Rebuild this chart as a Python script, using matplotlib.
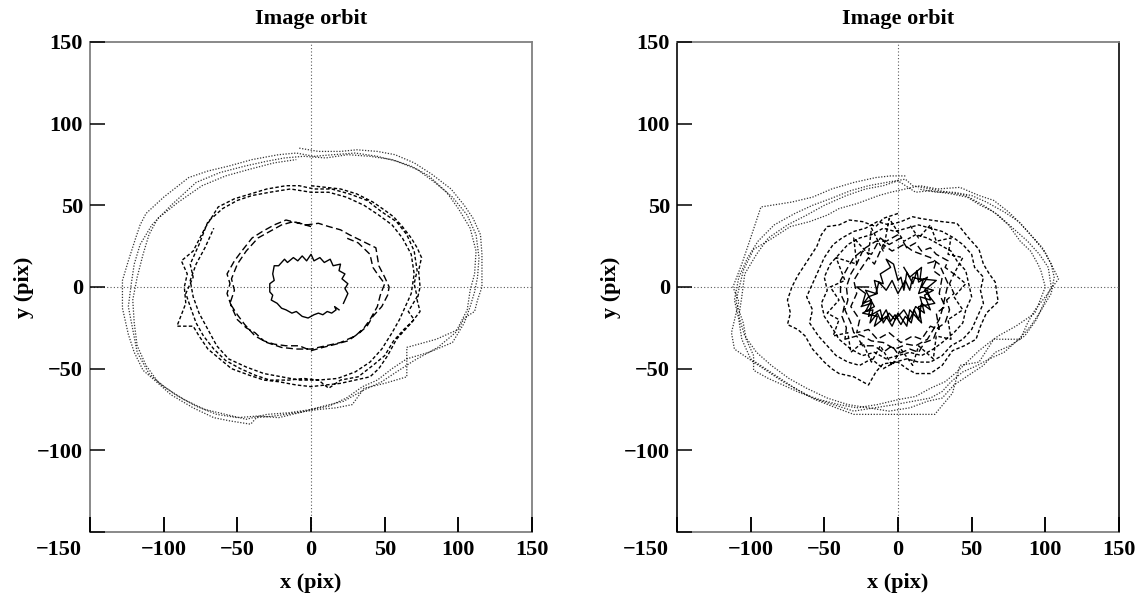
import matplotlib.pyplot as plt
import numpy as np
from matplotlib.transforms import ScaledTranslation

plt.rcParams['font.family'] = ['Liberation Serif', 'DejaVu Serif']
plt.rcParams['font.weight'] = 'bold'
plt.rcParams['axes.unicode_minus'] = True

# ---- data (x, y in pix) ----
# left panel
left_solid = [(22, -10), (25, -4), (23, -1), (25, 2), (21, 5), (23, 8), (19, 10), (20, 14),
              (15, 13), (13, 17), (9, 15), (6, 18), (2, 16), (0, 20), (-3, 16), (-6, 19),
              (-9, 16), (-12, 18), (-16, 15), (-18, 17), (-22, 13), (-25, 13), (-26, 8),
              (-25, 4), (-28, 2), (-28, -3), (-26, -5), (-27, -8), (-23, -10), (-20, -13),
              (-17, -14), (-13, -16), (-10, -15), (-6, -18), (-2, -19), (2, -17), (5, -16),
              (8, -17), (11, -15), (14, -16), (17, -14), (16, -12), (19, -14)]

left_longdash_1 = [(0, 37), (-8, 39), (-17, 41), (-25, 38), (-33, 34), (-40, 30), (-47, 22),
                   (-52, 16), (-57, 8), (-55, 2), (-57, -4), (-54, -12), (-50, -20), (-44, -25),
                   (-38, -28), (-32, -33), (-25, -35), (-17, -36), (-8, -36), (0, -39), (8, -37),
                   (17, -35), (25, -33), (33, -28), (38, -24), (42, -18), (48, -12), (52, -5),
                   (53, 0), (50, 6), (46, 13), (44, 24), (35, 28), (26, 32), (20, 35), (12, 37),
                   (5, 39)]
left_longdash_2 = [(-3, 38), (-12, 40), (-20, 38), (-28, 34), (-36, 30), (-44, 22), (-50, 14),
                   (-54, 5), (-52, -2), (-55, -10), (-50, -17), (-45, -23), (-38, -30), (-30, -34),
                   (-20, -37), (-10, -38), (0, -38), (10, -36), (20, -34), (30, -30), (36, -25),
                   (40, -20), (45, -12), (47, -5), (50, 2), (45, 8), (42, 12), (40, 20), (32, 27),
                   (24, 30)]

left_dash_1 = [(0, 62), (10, 61), (20, 60), (31, 57), (42, 52), (50, 47), (56, 43), (62, 37),
               (68, 30), (72, 24), (75, 18), (73, 10), (74, 0), (72, -8), (74, -15), (68, -22),
               (62, -28), (58, -32), (52, -42), (46, -50), (40, -55), (30, -57), (20, -59),
               (10, -60), (0, -61), (-10, -60), (-22, -58), (-32, -57), (-42, -54), (-54, -50),
               (-62, -44), (-70, -38), (-76, -30), (-80, -24), (-91, -24), (-85, -10), (-86, 0),
               (-84, 8), (-88, 16), (-80, 22), (-72, 36), (-63, 49), (-52, 54), (-41, 57),
               (-30, 60), (-17, 62), (-8, 62)]
left_dash_2 = [(2, 60), (14, 60), (26, 57), (38, 53), (48, 46), (58, 40), (65, 32), (70, 22),
               (72, 10), (70, 2), (72, -6), (66, -15), (70, -20), (63, -26), (56, -33), (50, -42),
               (42, -48), (32, -55), (20, -57), (12, -62), (5, -57), (-5, -56), (-15, -57),
               (-28, -57), (-38, -54), (-48, -50), (-58, -45), (-66, -38), (-73, -30), (-78, -22),
               (-82, -12), (-85, -4), (-80, 6), (-82, 14), (-76, 26), (-70, 40), (-60, 48),
               (-50, 53), (-40, 56), (-28, 58), (-14, 60)]
left_dash_3 = [(0, 58), (12, 58), (24, 55), (36, 50), (46, 44), (55, 38), (62, 30), (68, 20),
               (70, 8), (68, -4), (64, -12), (60, -20), (55, -28), (48, -38), (40, -46), (30, -52),
               (18, -56), (5, -57), (-8, -57), (-20, -55), (-32, -53), (-44, -49), (-56, -44),
               (-64, -36), (-70, -26), (-76, -16), (-80, -6), (-82, 4), (-78, 14), (-72, 24),
               (-66, 36)]

left_dot_1 = [(-8, 85), (5, 83), (20, 83), (31, 84), (45, 83), (57, 81), (70, 76), (82, 69),
              (95, 60), (104, 50), (110, 42), (115, 32), (116, 20), (116, 8), (116, 0), (113, -8),
              (111, -15), (104, -19), (100, -26), (85, -32), (65, -37), (65, -55), (50, -59),
              (36, -62), (28, -72), (17, -74), (5, -75), (-10, -77), (-25, -79), (-37, -80),
              (-41, -84), (-55, -82), (-66, -80), (-80, -74), (-95, -66), (-105, -58),
              (-114, -51), (-120, -40), (-124, -29), (-128, -13), (-128, 4), (-124, 16),
              (-119, 30), (-116, 38), (-112, 45), (-100, 55), (-83, 67), (-70, 71), (-56, 74),
              (-40, 78), (-22, 81)]
left_dot_2 = [(-10, 82), (2, 80), (15, 81), (30, 82), (45, 80), (58, 77), (72, 72), (84, 64),
              (96, 55), (106, 44), (112, 32), (114, 18), (113, 6), (111, -3), (108, -12),
              (104, -22), (96, -34), (80, -40), (65, -44), (55, -50), (45, -57), (35, -61),
              (24, -68), (12, -73), (0, -75), (-15, -77), (-30, -78), (-44, -81), (-58, -78),
              (-72, -75), (-86, -69), (-100, -61), (-110, -53), (-118, -40), (-121, -26),
              (-124, -12), (-122, 2), (-120, 14), (-116, 26), (-108, 38), (-95, 50), (-78, 64),
              (-62, 70), (-45, 74), (-30, 77)]
left_dot_3 = [(-18, 79), (-5, 80), (10, 79), (25, 81), (40, 80), (55, 78), (68, 74), (80, 68),
              (92, 58), (100, 48), (108, 36), (112, 22), (111, 8), (108, -2), (106, -14),
              (98, -28), (86, -37), (70, -45), (58, -52), (48, -58), (36, -63), (22, -70),
              (8, -73), (-8, -77), (-22, -80), (-36, -79), (-50, -80), (-64, -78), (-78, -73),
              (-92, -66), (-104, -58), (-112, -48), (-118, -36), (-120, -22), (-121, -8),
              (-118, 6), (-114, 20), (-110, 32), (-104, 42), (-90, 52), (-74, 62), (-58, 68),
              (-42, 72), (-25, 76), (-10, 78)]

# right panel
right_solid = [(-20, 0), (-28, 0), (-22, -4), (-24, -10), (-18, -8), (-22, -15), (-17, -14),
               (-19, -22), (-14, -16), (-12, -20), (-8, -14), (-5, -21), (-2, -17), (2, -23),
               (5, -18), (9, -22), (11, -14), (14, -20), (16, -10), (22, -14), (18, -5), (24, -2),
               (16, 0), (20, 6), (14, 3), (13, 10), (10, 2), (6, 9), (4, -2), (2, 6), (0, 4),
               (-3, 14), (-8, 17), (-5, 12), (-12, 8), (-10, 2), (-16, 4), (-14, -4), (-20, -6),
               (-25, -12), (-18, -10), (-20, -18), (-12, -14), (-10, -22), (-6, -16), (-2, -20),
               (4, -14), (8, -20), (12, -12), (18, -16), (15, -6), (22, -8), (20, -2), (14, -4),
               (17, 4), (10, 6), (8, -2), (5, 4), (0, -4), (-4, 4), (-8, -2), (-13, 3), (-15, -4),
               (-22, -2), (-16, -12), (-24, -16), (-14, -18), (-16, -24), (-8, -18), (-4, -24),
               (0, -16), (6, -24), (8, -14), (16, -22), (14, -12), (25, -10), (18, -2), (26, 4),
               (15, 5), (16, 12), (8, 6), (4, 12)]

right_longdash = [(0, 32), (-8, 28), (-15, 28), (-22, 24), (-30, 18), (-34, 12), (-39, 4),
                  (-39, -4), (-36, -10), (-38, -18), (-35, -25), (-36, -32), (-28, -30),
                  (-24, -36), (-16, -36), (-10, -40), (-4, -36), (0, -41), (8, -38), (14, -40),
                  (18, -34), (24, -32), (27, -25), (32, -22), (35, -14), (33, -8), (38, -4),
                  (35, 2), (38, 8), (32, 12), (34, 16), (26, 20), (22, 24), (16, 22), (12, 27),
                  (6, 24), (2, 30), (-6, 26), (-12, 30), (-18, 20), (-24, 22), (-28, 14),
                  (-32, 8), (-35, 0), (-34, -8), (-36, -14), (-32, -22), (-30, -28), (-24, -30),
                  (-18, -33), (-10, -34), (-2, -38), (6, -35), (12, -36), (20, -32), (24, -26),
                  (28, -20), (30, -14), (32, -6), (34, 2), (30, 10), (28, 14), (22, 18),
                  (16, 20), (10, 22), (4, 26), (-4, 22), (-10, 26), (-16, 14), (-20, 18),
                  (-26, 10), (-30, 4), (-28, -4), (-32, -12), (-26, -20), (-28, -28), (-20, -26),
                  (-14, -32), (-6, -28), (2, -34), (10, -30), (16, -32), (22, -24), (28, -26),
                  (26, -16), (32, -12), (28, -4), (30, 6), (24, 10), (26, 16), (18, 14)]

right_dash_1 = [(0, 45), (-10, 42), (-15, 37), (-24, 40), (-33, 41), (-40, 38), (-48, 37),
                (-52, 32), (-55, 25), (-60, 18), (-68, 7), (-72, 0), (-75, -8), (-73, -16),
                (-75, -23), (-68, -26), (-63, -30), (-58, -38), (-50, -46), (-45, -50),
                (-40, -53), (-30, -55), (-20, -60), (-15, -52), (-10, -47), (0, -46), (6, -50),
                (12, -53), (22, -53), (30, -48), (37, -39), (45, -36), (53, -32), (56, -24),
                (60, -16), (68, -9), (66, 3), (62, 8), (58, 14), (55, 23), (48, 30), (40, 39),
                (30, 40), (22, 41), (15, 42), (10, 43)]
right_dash_2 = [(2, 40), (-6, 38), (-14, 40), (-22, 36), (-30, 34), (-38, 30), (-44, 26),
                (-50, 18), (-54, 10), (-58, 2), (-62, -6), (-58, -14), (-60, -22), (-54, -30),
                (-48, -36), (-42, -42), (-34, -46), (-26, -48), (-18, -44), (-10, -50),
                (-2, -46), (6, -44), (14, -46), (22, -46), (30, -42), (36, -36), (44, -32),
                (50, -26), (54, -18), (58, -10), (56, -2), (58, 6), (52, 12), (50, 20),
                (44, 26), (38, 30), (30, 34), (22, 36), (14, 38)]
right_dash_3 = [(6, 36), (-2, 34), (-10, 36), (-18, 32), (-26, 30), (-34, 26), (-40, 20),
                (-46, 14), (-50, 6), (-48, -2), (-52, -10), (-50, -18), (-44, -26), (-40, -32),
                (-32, -38), (-24, -42), (-16, -40), (-8, -44), (0, -42), (8, -40), (16, -42),
                (24, -38), (30, -34), (38, -28), (44, -22), (46, -14), (50, -6), (48, 2),
                (46, 10), (40, 16), (36, 22), (28, 26), (20, 30), (12, 32)]
right_dash_4 = [(4, 28), (-6, 42), (-10, 22), (-18, 36), (-20, 20), (-30, 30), (-28, 14),
                (-42, 18), (-36, 4), (-46, 0), (-40, -8), (-48, -16), (-40, -20), (-44, -30),
                (-34, -28), (-32, -40), (-24, -34), (-18, -46), (-12, -36), (-4, -48), (2, -38),
                (10, -48), (14, -36), (24, -44), (26, -30), (36, -32), (34, -20), (44, -14),
                (38, -6), (46, 2), (38, 8), (44, 18), (34, 20), (36, 30), (26, 28), (22, 38),
                (14, 30), (8, 38)]

right_dot_1 = [(5, 68), (-5, 68), (-15, 67), (-30, 64), (-45, 60), (-58, 55), (-72, 52),
               (-93, 49), (-100, 30), (-106, 14), (-112, 0), (-108, -9), (-113, -28),
               (-111, -38), (-98, -46), (-88, -52), (-78, -58), (-66, -64), (-56, -69),
               (-42, -74), (-30, -78), (-15, -78), (0, -78), (12, -78), (25, -78), (37, -65),
               (42, -48), (55, -46), (65, -32), (83, -32), (88, -22), (93, -14), (100, -6),
               (109, 5), (100, 21), (92, 30), (83, 39), (75, 46), (65, 53), (55, 56), (42, 61),
               (27, 60), (15, 62)]
right_dot_2 = [(5, 60), (-5, 58), (-13, 56), (-28, 51), (-40, 48), (-48, 44), (-60, 40),
               (-73, 37), (-85, 30), (-98, 23), (-105, 10), (-110, -9), (-105, -22),
               (-103, -32), (-98, -42), (-98, -51), (-88, -56), (-78, -60), (-66, -65),
               (-53, -69), (-40, -72), (-28, -74), (-14, -72), (0, -69), (12, -67), (22, -62),
               (32, -58), (40, -52), (48, -45), (55, -39), (62, -34), (68, -30), (80, -24),
               (93, -16), (100, 0), (97, 10), (95, 14), (90, 22), (83, 28), (75, 38), (65, 46),
               (56, 50), (47, 55), (36, 57), (22, 59), (12, 58)]
right_dot_3 = [(0, 65), (-10, 62), (-22, 60), (-35, 56), (-50, 50), (-62, 44), (-75, 38),
               (-88, 30), (-96, 20), (-104, 8), (-106, -6), (-108, -18), (-104, -30),
               (-96, -40), (-86, -48), (-74, -56), (-62, -62), (-48, -68), (-34, -72),
               (-20, -74), (-6, -76), (8, -74), (20, -70), (30, -68), (38, -60), (48, -54),
               (58, -48), (66, -40), (76, -36), (86, -30), (94, -20), (100, -8), (104, 0),
               (102, 12), (96, 20), (88, 28), (78, 36), (68, 44), (58, 50), (46, 56), (34, 58),
               (22, 60), (10, 62)]
right_dot_4 = [(5, 66), (-8, 64), (-20, 62), (-32, 59), (-46, 54), (-58, 50), (-70, 45),
               (-84, 38), (-95, 28), (-102, 18), (-108, 6), (-111, -8), (-108, -20),
               (-106, -32), (-100, -44), (-90, -50), (-80, -56), (-70, -62), (-58, -68),
               (-44, -72), (-30, -76), (-16, -74), (-2, -72), (10, -70), (22, -68), (30, -64),
               (36, -58), (44, -52), (54, -48), (62, -44), (72, -40), (82, -32), (90, -24),
               (96, -16), (104, -4), (106, 6), (104, 14), (98, 24), (90, 32), (82, 40),
               (72, 46), (60, 52), (50, 56), (38, 58), (26, 58), (14, 60)]

ticks = [-150, -100, -50, 0, 50, 100, 150]
xtick_labels = ['\u2212150', '\u2212100', '\u221250', '0', '50', '100', '150']
ytick_labels = ['', '\u2212100', '\u221250', '0', '50', '100', '150']


def xy(*parts):
    pts = np.array([p for part in parts for p in part], dtype=float)
    return pts[:, 0], pts[:, 1]


def draw_panel(ax, solid, longdash, dash, dot, dark_sides):
    ax.axhline(0, ls=(0, (1, 2)), lw=0.8, color='0.35', zorder=1)
    ax.axvline(0, ls=(0, (1, 2)), lw=0.8, color='0.35', zorder=1)

    x, y = xy(*dot)
    ax.plot(x, y, ls=(0, (1, 1.3)), lw=0.9, color='0.2')
    x, y = xy(*dash)
    ax.plot(x, y, ls=(0, (2.5, 1.6)), lw=1.0, color='black')
    x, y = xy(*longdash)
    ax.plot(x, y, ls=(0, (5, 2.5)), lw=1.0, color='black')
    x, y = xy(solid)
    ax.plot(x, y, ls='-', lw=1.0, color='black')

    ax.set_xlim(-150, 150)
    ax.set_ylim(-150, 150)
    ax.set_xticks(ticks)
    ax.set_xticklabels(xtick_labels)
    ax.set_yticks(ticks)
    ax.set_yticklabels(ytick_labels)
    ax.xaxis.set_ticks_position('bottom')
    ax.yaxis.set_ticks_position('left')
    ax.tick_params(axis='both', which='major', direction='in', length=10.5, width=1.1,
                   color='black', labelsize=16, bottom=True, left=True, top=False, right=False)
    ax.tick_params(axis='x', pad=6)
    ax.tick_params(axis='y', pad=5)
    # inward bottom tick marks, drawn again as markers on the lower edge
    ax.plot(ticks, [ax.get_ylim()[0]] * len(ticks), ls='none', marker=2, ms=10.5, mew=1.1,
            color='black', clip_on=False, zorder=3)

    for side in ['left', 'right', 'top', 'bottom']:
        ax.spines[side].set_color('0.5')
        ax.spines[side].set_linewidth(1.3)
        ax.spines[side].set_zorder(0.5)
    if dark_sides:
        ax.spines['left'].set_color('0.1')
        ax.spines['right'].set_color('0.1')

    # first x label sits left of the corner
    lab = ax.xaxis.get_major_ticks()[0].label1
    lab.set_horizontalalignment('right')
    lab.set_transform(lab.get_transform() + ScaledTranslation(-6 / 72, 0, ax.figure.dpi_scale_trans))

    ax.set_title('Image orbit', fontsize=16, fontweight='bold', pad=13)
    ax.set_xlabel('x (pix)', fontsize=16, fontweight='bold', labelpad=9)
    ax.set_ylabel('y (pix)', fontsize=16, fontweight='bold', labelpad=2)


fig = plt.figure(figsize=(11.41, 5.93), dpi=100)
ax1 = fig.add_axes([0.0789, 0.1029, 0.3874, 0.8263])
ax2 = fig.add_axes([0.5933, 0.1029, 0.3874, 0.8263])

draw_panel(ax1, left_solid, [left_longdash_1, left_longdash_2],
           [left_dash_1, left_dash_2, left_dash_3], [left_dot_1, left_dot_2, left_dot_3], False)
draw_panel(ax2, right_solid, [right_longdash],
           [right_dash_1, right_dash_2, right_dash_3, right_dash_4],
           [right_dot_1, right_dot_2, right_dot_3, right_dot_4], True)

fig.savefig('out.png', dpi=100)
